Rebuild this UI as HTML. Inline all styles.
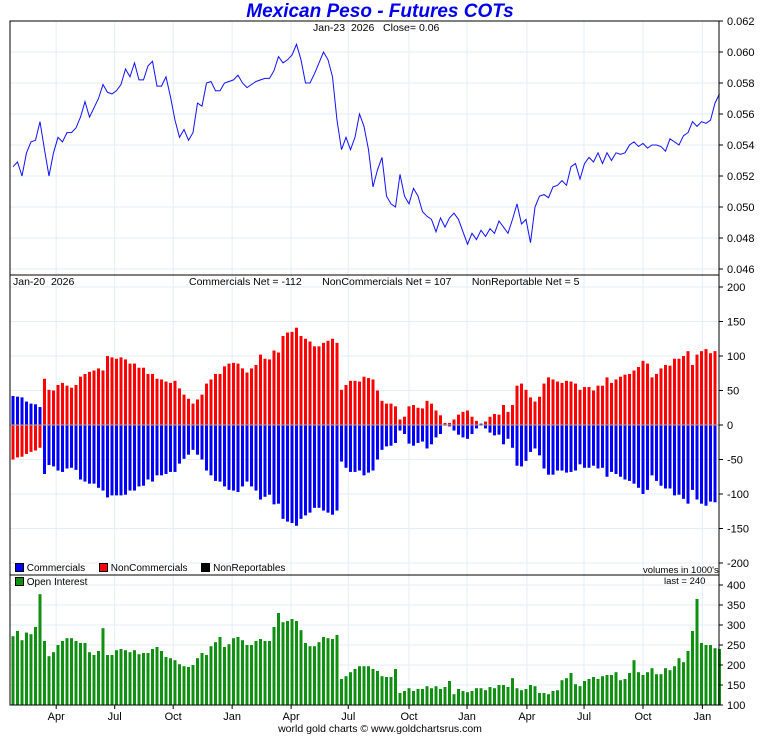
<!DOCTYPE html>
<html><head><meta charset="utf-8"><style>
body{margin:0;background:#fff;width:760px;height:735px;overflow:hidden;font-family:"Liberation Sans",sans-serif}
svg text{font-family:"Liberation Sans",sans-serif}
</style></head><body>
<svg id="c" width="760" height="735" xmlns="http://www.w3.org/2000/svg"></svg>
<script>
const monthLabels=["Apr","Jul","Oct","Jan","Apr","Jul","Oct","Jan","Apr","Jul","Oct","Jan"];
const monthWeeks=[9.6,22.6,35.6,48.7,61.8,74.5,88,100.9,114.2,126.9,140,153.2];
const priceTicks=[0.046,0.048,0.050,0.052,0.054,0.056,0.058,0.060,0.062];
const netTicks=[-200,-150,-100,-50,0,50,100,150,200];
const oiTicks=[100,150,200,250,300,350,400];
const price=[0.0526,0.0529,0.0520,0.0535,0.0542,0.0543,0.0555,0.0537,0.0520,0.0535,0.0545,0.0542,0.0548,0.0548,0.0551,0.0558,0.0568,0.0558,0.0564,0.0570,0.0579,0.0574,0.0573,0.0575,0.0579,0.0589,0.0584,0.0593,0.0582,0.0582,0.0591,0.0594,0.0578,0.0578,0.0584,0.0571,0.0556,0.0545,0.0550,0.0543,0.0548,0.0567,0.0565,0.0580,0.0581,0.0575,0.0575,0.0580,0.0581,0.0582,0.0585,0.0580,0.0577,0.0579,0.0581,0.0582,0.0583,0.0583,0.0588,0.0597,0.0593,0.0595,0.0598,0.0605,0.0595,0.0580,0.0580,0.0586,0.0593,0.0600,0.0595,0.0584,0.0556,0.0537,0.0545,0.0537,0.0545,0.0560,0.0552,0.0537,0.0513,0.0524,0.0532,0.0507,0.0502,0.0500,0.0521,0.0507,0.0502,0.0512,0.0507,0.0497,0.0494,0.0492,0.0484,0.0493,0.0487,0.0493,0.0496,0.0492,0.0484,0.0476,0.0483,0.0479,0.0485,0.0481,0.0486,0.0483,0.0491,0.0487,0.0483,0.0492,0.0502,0.0489,0.0492,0.0477,0.0500,0.0507,0.0508,0.0506,0.0513,0.0514,0.0517,0.0514,0.0526,0.0528,0.0518,0.0528,0.0532,0.0529,0.0535,0.0528,0.0535,0.0530,0.0535,0.0534,0.0535,0.0540,0.0542,0.0539,0.0541,0.0538,0.0540,0.0540,0.0539,0.0536,0.0544,0.0542,0.0540,0.0546,0.0548,0.0555,0.0552,0.0555,0.0554,0.0556,0.0567,0.0573];
const commercials=[42,41,40,34,31,30,26,-71,-58,-60,-66,-68,-63,-62,-65,-79,-82,-85,-85,-91,-95,-105,-102,-102,-102,-101,-95,-95,-89,-88,-79,-82,-73,-73,-71,-68,-68,-56,-49,-43,-36,-43,-50,-66,-73,-81,-82,-89,-94,-95,-97,-89,-82,-89,-95,-108,-104,-101,-115,-114,-136,-140,-142,-146,-136,-131,-127,-120,-120,-124,-127,-130,-124,-53,-62,-68,-68,-66,-73,-69,-66,-50,-36,-31,-30,-26,-8,-13,-27,-30,-26,-24,-34,-28,-18,-13,-1,-2,-8,-14,-18,-20,-13,-5,2,-5,-11,-15,-14,-28,-20,-33,-59,-60,-52,-39,-34,-44,-63,-72,-72,-66,-66,-69,-68,-66,-57,-62,-62,-59,-63,-62,-75,-68,-71,-75,-79,-81,-85,-91,-100,-94,-73,-81,-88,-92,-92,-102,-101,-107,-114,-94,-108,-114,-117,-111,-112];
const nonCommercials=[-50,-47,-46,-42,-39,-37,-33,67,51,50,58,61,57,54,58,70,74,77,79,82,79,100,98,96,98,95,89,89,83,83,74,74,67,66,63,61,64,53,44,38,31,37,44,60,66,74,74,85,89,90,89,82,76,82,87,102,96,95,108,105,129,134,135,141,129,125,121,114,114,119,122,125,119,51,58,64,64,63,70,68,66,50,35,31,31,27,8,12,27,29,25,24,35,31,21,14,3,3,8,15,19,21,12,6,-1,5,12,16,15,29,19,29,57,60,51,40,34,41,60,69,66,63,61,64,63,60,51,55,55,50,57,57,69,61,66,70,73,74,79,84,93,89,69,74,82,87,86,96,96,100,107,87,102,107,110,104,107];
const openInterest=[272,285,262,281,277,295,377,260,222,232,250,260,267,267,260,255,255,232,225,235,292,225,225,237,240,237,232,237,227,230,230,240,245,235,220,217,212,202,197,195,200,217,230,225,247,257,270,245,252,267,270,262,250,250,260,265,260,260,295,330,307,310,315,310,287,255,247,247,257,270,267,265,275,165,172,182,190,197,197,197,190,185,172,170,170,190,130,135,142,135,140,140,147,142,147,140,145,160,127,140,135,132,135,142,142,137,145,142,150,150,145,167,142,137,140,150,147,130,130,127,135,137,162,167,180,152,147,160,165,170,165,172,175,175,182,162,165,180,212,182,175,182,192,177,177,192,187,197,217,207,235,285,365,255,250,250,242,240];

const NS="http://www.w3.org/2000/svg";
const svg=document.getElementById('c');
function el(tag,attrs,parent){const e=document.createElementNS(NS,tag);for(const k in attrs)e.setAttribute(k,attrs[k]);(parent||svg).appendChild(e);return e;}
const L=10,R=719,N=157;
const step=(715-13)/(N-1);
function xw(i){return 13+step*i;}
function yPrice(v){return 21+(0.062-v)/0.016*248;}
function yNet(v){return 425-v*0.69;}
function yOI(v){return 705-(v-100)*0.4;}

const grid=el('g',{});


monthWeeks.forEach(w=>{el('line',{x1:xw(w),x2:xw(w),y1:21,y2:705,stroke:'#e3eef8','stroke-width':1},grid);});
priceTicks.forEach(v=>{el('line',{x1:L,x2:R,y1:yPrice(v),y2:yPrice(v),stroke:'#e3eef8'},grid);});
netTicks.forEach(v=>{if(v!==0)el('line',{x1:L,x2:R,y1:yNet(v),y2:yNet(v),stroke:'#e3eef8'},grid);});
oiTicks.forEach(v=>{el('line',{x1:L,x2:R,y1:yOI(v),y2:yOI(v),stroke:'#e3eef8'},grid);});

let d='';price.forEach((v,i)=>{d+=(i?'L':'M')+xw(i).toFixed(1)+','+yPrice(v).toFixed(1);});
const pl=el('path',{d:d,fill:'none',stroke:'#1010ff','stroke-width':1});



const nb=el('g',{});


function bar(g,x,v,color,name){const y0=yNet(0),y1=yNet(v);const r=el('rect',{x:x-1.5,y:Math.min(y0,y1),width:3,height:Math.max(0.5,Math.abs(y1-y0)),fill:color},g);

}
commercials.forEach((v,i)=>bar(nb,xw(i),v,'#0000ff','commercials-bar'));
nonCommercials.forEach((v,i)=>bar(nb,xw(i),v,'#ff0000','noncommercials-bar'));
el('line',{x1:L,x2:R,y1:425,y2:425,stroke:'#aaa','stroke-width':1});

const ob=el('g',{});


openInterest.forEach((v,i)=>{const r=el('rect',{x:xw(i)-1.5,y:yOI(v),width:3,height:705-yOI(v),fill:'#109010'},ob);

});

el('rect',{x:L,y:21,width:R-L,height:684,fill:'none',stroke:'#000','stroke-width':1});
el('line',{x1:L,x2:R,y1:275,y2:275,stroke:'#000'});
el('line',{x1:L,x2:R,y1:575,y2:575,stroke:'#000'});

function tick(y,txt,name){el('line',{x1:R,x2:R+4,y1:y,y2:y,stroke:'#000'});const t=el('text',{x:R+8,y:y+4,'font-size':11,fill:'#000'});t.textContent=txt;

}
priceTicks.forEach(v=>tick(yPrice(v),v.toFixed(3),'price-tick-label'));
netTicks.forEach(v=>tick(yNet(v),String(v),'net-tick-label'));
oiTicks.forEach(v=>tick(yOI(v),String(v),'oi-tick-label'));
monthWeeks.forEach((w,i)=>{el('line',{x1:xw(w),x2:xw(w),y1:705,y2:709,stroke:'#000'});const t=el('text',{x:xw(w),y:720,'font-size':11,'text-anchor':'middle'});t.textContent=monthLabels[i];

});
</script>
<div style="position:absolute;left:0;top:0;width:760px;height:735px;pointer-events:none;font-size:10.5px;color:#000">
<div style="position:absolute;left:0;width:760px;top:2px;text-align:center;font-size:19px;font-weight:bold;font-style:italic;color:#0000ee;line-height:20px">Mexican Peso - Futures COTs</div>
<div style="position:absolute;left:313px;top:22px">Jan-23&nbsp; 2026&nbsp;&nbsp; Close= 0.06</div>
<div style="position:absolute;left:13px;top:276px">Jan-20&nbsp; 2026</div>
<div style="position:absolute;left:189px;top:276px">Commercials Net = -112&nbsp;&nbsp;&nbsp;&nbsp;&nbsp;&nbsp; NonCommercials Net = 107&nbsp;&nbsp;&nbsp;&nbsp;&nbsp;&nbsp; NonReportable Net = 5</div>
<div style="position:absolute;left:15px;top:563px;font-size:10px">
<span style="display:inline-block;width:7px;height:7px;background:#00f;border:1px solid #000;vertical-align:-1px"></span> Commercials&nbsp;&nbsp;&nbsp;&nbsp;
<span style="display:inline-block;width:7px;height:7px;background:#f00;border:1px solid #000;vertical-align:-1px"></span> NonCommercials&nbsp;&nbsp;&nbsp;&nbsp;
<span style="display:inline-block;width:7px;height:7px;background:#000;border:1px solid #000;vertical-align:-1px"></span> NonReportables</div>
<div style="position:absolute;left:643px;top:565px;font-size:9.5px">volumes in 1000's</div>
<div style="position:absolute;left:15px;top:577px;font-size:10px"><span style="display:inline-block;width:7px;height:7px;background:#109010;border:1px solid #000;vertical-align:-1px"></span> Open Interest</div>
<div style="position:absolute;left:664px;top:576px;font-size:9.5px">last = 240</div>
<div style="position:absolute;left:0;width:760px;top:723px;text-align:center;font-size:10.5px">world gold charts © www.goldchartsrus.com</div>
</div>
</body></html>
